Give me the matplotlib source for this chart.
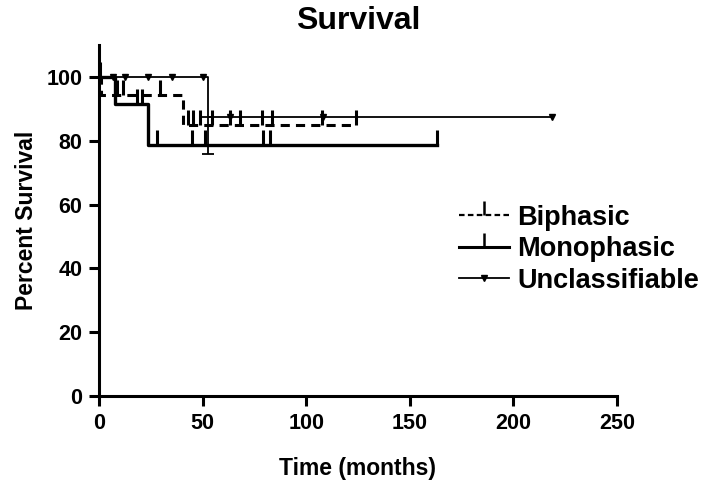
import numpy as np
import matplotlib
matplotlib.use('Agg')
import matplotlib.pyplot as plt

plt.rcParams['font.family'] = ['Liberation Sans', 'DejaVu Sans']
plt.rcParams['font.weight'] = 'bold'

# Kaplan-Meier steps (time in months, percent survival)
bi_t = [0, 1, 40.5, 124]
bi_s = [100, 94.4, 85.0, 85.0]
bi_cens = [0.5, 8.5, 11.8, 29.5, 43, 45.4, 48.8, 54.6, 63, 68, 78.6, 83.4, 107.6, 124]

mono_t = [0, 7.7, 23.5, 163]
mono_s = [100, 91.7, 78.6, 78.6]
mono_cens = [18.2, 20.6, 28, 44.8, 51.2, 79, 82.6, 163]

un_t = [0, 52.5, 218.5]
un_s = [100, 87.5, 87.5]
un_cens = [6.8, 12.6, 23.7, 35.3, 50.3, 63, 108, 218.5]
un_err_low = 11.5  # lower whisker at the drop

def level(ts, ss, c):
    ts = np.array(ts); ss = np.array(ss)
    i = np.searchsorted(ts, c, side='right') - 1
    return ss[i]

fig = plt.figure(figsize=(7.04, 4.91), dpi=100)
ax = fig.add_axes([0.1406, 0.1935, 0.7358, 0.7145])

ax.plot(bi_t, bi_s, drawstyle='steps-post', color='black', lw=2.2, linestyle=(0, (3, 2)))
ax.plot(bi_cens, [level(bi_t, bi_s, c) for c in bi_cens], linestyle='none',
        marker=2, markersize=10.5, mew=2.2, color='black')

ax.plot(mono_t, mono_s, drawstyle='steps-post', color='black', lw=2.4)
ax.plot(mono_cens, [level(mono_t, mono_s, c) for c in mono_cens], linestyle='none',
        marker=2, markersize=10.5, mew=2.2, color='black')

ax.plot(un_t, un_s, drawstyle='steps-post', color='black', lw=1.3)
ax.plot(un_cens, [level(un_t, un_s, c) for c in un_cens], linestyle='none',
        marker='v', markersize=4.5, color='black')
ax.errorbar([un_t[1]], [un_s[1]], yerr=[[un_err_low], [0]], fmt='none',
            ecolor='black', elinewidth=1.3, capsize=4, capthick=1.3)

# legend handles
h1, = ax.plot([], [], color='black', lw=1.6, linestyle=(0, (2.5, 1.5)),
              marker=2, markersize=10, mew=1.8)
h2, = ax.plot([], [], color='black', lw=2.2, marker=2, markersize=10, mew=1.8)
h3, = ax.plot([], [], color='black', lw=1.3, marker='v', markersize=4.5)
ax.legend([h1, h2, h3], ['Biphasic', 'Monophasic', 'Unclassifiable'],
          loc='upper left', bbox_to_anchor=(0.637, 0.605), bbox_transform=fig.transFigure,
          frameon=False, fontsize=19.5, handlelength=1.85, handletextpad=0.3,
          labelspacing=0.2, borderaxespad=0, numpoints=1)

ax.set_xlim(0, 250)
ax.set_ylim(0, 110)
ax.set_xticks([0, 50, 100, 150, 200, 250])
ax.set_yticks([0, 20, 40, 60, 80, 100])
for s in ['top', 'right']:
    ax.spines[s].set_visible(False)
for s in ['left', 'bottom']:
    ax.spines[s].set_linewidth(2.2)
ax.tick_params(width=2.2, length=7, labelsize=15.5, pad=5)
for lab in ax.get_xticklabels() + ax.get_yticklabels():
    lab.set_fontweight('bold')

ax.set_title('Survival', fontsize=23, fontweight='bold', pad=12)
ax.set_xlabel('Time (months)', fontsize=16.5, fontweight='bold', labelpad=17)
ax.set_ylabel('Percent Survival', fontsize=16.5, fontweight='bold', labelpad=6)

fig.savefig('out.png', dpi=100)
